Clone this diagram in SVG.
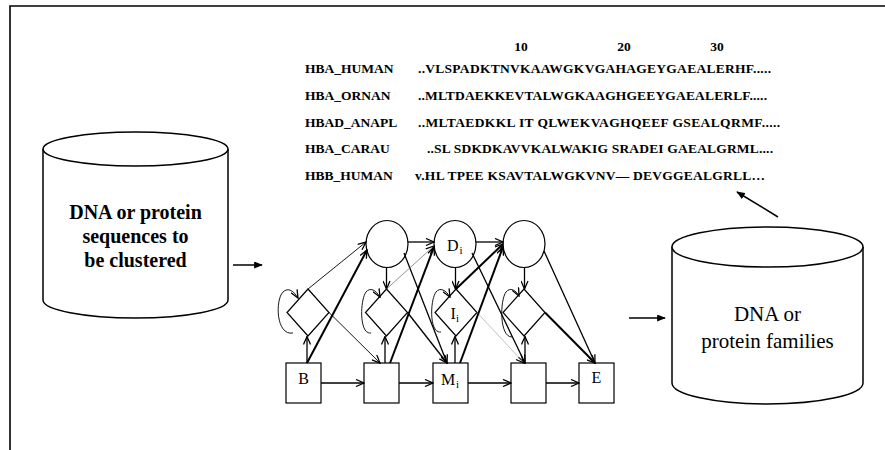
<svg xmlns="http://www.w3.org/2000/svg" width="885" height="450" viewBox="0 0 885 450" font-family="'Liberation Serif', 'Times New Roman', serif">
<defs>
<style>
.shape{fill:#fff;stroke:#000;stroke-width:1.2}
.cyl{fill:#fff;stroke:#000;stroke-width:1.5}
.c{fill:none;stroke:#000;stroke-width:1.3;marker-end:url(#open)}
.thick{stroke-width:2}
.thin{stroke-width:0.9}
.gray{stroke:#666;stroke-width:0.7}
.lgray{stroke:#999;stroke-width:0.6}
.big{fill:none;stroke:#000;stroke-width:1.5;marker-end:url(#solid)}
</style>
<marker id="open" viewBox="0 0 10 8" refX="9" refY="4" markerWidth="10" markerHeight="8" markerUnits="userSpaceOnUse" orient="auto">
<path d="M1,0.5 L9,4 L1,7.5" fill="none" stroke="#000" stroke-width="1.3"/>
</marker>
<marker id="solid" viewBox="0 0 10 8" refX="9" refY="4" markerWidth="9" markerHeight="7" markerUnits="userSpaceOnUse" orient="auto">
<path d="M0,0 L10,4 L0,8 z" fill="#000"/>
</marker>
</defs>
<rect width="885" height="450" fill="#fff"/>
<g id="frame" fill="none" stroke="#000" stroke-width="1.6">
<path d="M10,450 L10,6 L885,6"/>
</g>

<g id="alignment" font-family="'Liberation Serif', 'Times New Roman', serif" font-size="13.5" font-weight="bold" fill="#000">
<text x="521" y="51" text-anchor="middle">10</text>
<text x="624" y="51" text-anchor="middle">20</text>
<text x="717" y="51" text-anchor="middle">30</text>
<text x="305" y="73">HBA_HUMAN</text>
<text x="305" y="100">HBA_ORNAN</text>
<text x="305" y="127">HBAD_ANAPL</text>
<text x="305" y="153">HBA_CARAU</text>
<text x="305" y="180">HBB_HUMAN</text>
<text x="418" y="73" textLength="353">..VLSPADKTNVKAAWGKVGAHAGEYGAEALERHF.....</text>
<text x="418" y="100" textLength="349">..MLTDAEKKEVTALWGKAAGHGEEYGAEALERLF.....</text>
<text x="418" y="127" textLength="362">..MLTAEDKKL IT QLWEKVAGHQEEF GSEALQRMF.....</text>
<text x="427" y="153" textLength="346">..SL SDKDKAVVKALWAKIG SRADEI GAEALGRML....</text>
<text x="415" y="180" textLength="350">v.HL TPEE KSAVTALWGKVNV— DEVGGEALGRLL…</text>
</g>

<g id="input-db">
<path class="cyl" d="M43,149 L43,300 A92.5,18 0 0 0 228,300 L228,149"/>
<ellipse class="cyl" cx="135.5" cy="149" rx="92.5" ry="17"/>
<g font-family="'Liberation Serif', 'Times New Roman', serif" font-size="20" font-weight="bold" text-anchor="middle" fill="#000">
<text x="135.5" y="219">DNA or protein</text>
<text x="135.5" y="243">sequences to</text>
<text x="135.5" y="267">be clustered</text>
</g>
</g>

<g id="output-db">
<path class="cyl" d="M672,247 L672,383 A95.5,21 0 0 0 863,383 L863,247"/>
<ellipse class="cyl" cx="767.5" cy="247" rx="95.5" ry="20"/>
<g font-family="'Liberation Serif', 'Times New Roman', serif" font-size="21" text-anchor="middle" fill="#000">
<text x="767.5" y="321">DNA or</text>
<text x="767.5" y="348">protein families</text>
</g>
</g>

<g id="D1"><ellipse class="shape" cx="387" cy="244" rx="21" ry="23.5"/></g>
<g id="D2" font-family="'Liberation Serif', 'Times New Roman', serif"><ellipse class="shape" cx="455" cy="244" rx="21" ry="23.5"/>
<text x="447" y="251" font-size="16">D</text><text x="459.5" y="254" font-size="11">i</text></g>
<g id="D3"><ellipse class="shape" cx="524" cy="244" rx="21" ry="23.5"/></g>

<g id="I0"><path class="shape" d="M308,289 L329,312.5 L308,336 L287,312.5 Z"/></g>
<g id="I1"><path class="shape" d="M386.5,289 L407.5,312.5 L386.5,336 L365.5,312.5 Z"/></g>
<g id="I2" font-family="'Liberation Serif', 'Times New Roman', serif"><path class="shape" d="M456,289 L477,312.5 L456,336 L435,312.5 Z"/>
<text x="450.5" y="319" font-size="16">I</text><text x="456" y="322" font-size="11">i</text></g>
<g id="I3"><path class="shape" d="M524,289 L545,312.5 L524,336 L503,312.5 Z"/></g>

<g id="B" font-family="'Liberation Serif', 'Times New Roman', serif"><rect class="shape" x="286" y="363" width="35" height="40"/>
<text x="303.5" y="384" font-size="16" text-anchor="middle">B</text></g>
<g id="M1"><rect class="shape" x="364" y="363" width="35" height="40"/></g>
<g id="M2" font-family="'Liberation Serif', 'Times New Roman', serif"><rect class="shape" x="433" y="363" width="35" height="40"/>
<text x="441" y="385" font-size="16">M</text><text x="456" y="388" font-size="11">i</text></g>
<g id="M3"><rect class="shape" x="511" y="363" width="35" height="40"/></g>
<g id="E" font-family="'Liberation Serif', 'Times New Roman', serif"><rect class="shape" x="579" y="363" width="35" height="40"/>
<text x="596.5" y="383" font-size="16" text-anchor="middle">E</text></g>

<g id="connectors">
<path class="big" d="M233,265 L262,265"/>
<path class="big" d="M629,318 L665,318"/>
<path class="big" d="M778,217 L737,192"/>

<path class="c" d="M321,383 L364,383"/>
<path class="c" d="M399,383 L433,383"/>
<path class="c" d="M468,383 L511,383"/>
<path class="c" d="M546,383 L579,383"/>
<path class="c" d="M408,242 L434,242"/>
<path class="c" d="M476,242 L503,242"/>

<path class="c" d="M307,363 L307,336.5"/>
<path class="c" d="M385,363 L385,336.5"/>
<path class="c" d="M455,363 L455,336.5"/>
<path class="c" d="M525,363 L525,336.5"/>
<path class="c" d="M386.5,267.5 L386.5,289"/>
<path class="c" d="M455.5,267.5 L455.5,289"/>
<path class="c" d="M524.5,267.5 L524.5,289"/>

<path class="c thick" d="M307,363 L367,250"/>
<path class="c thin" d="M308,289 L366,242"/>
<path class="c thin" d="M329,312.5 L380,363"/>
<path class="c" d="M404,253 L447,363"/>
<path class="c" d="M407.5,312.5 L447,363"/>
<path class="c thick" d="M390,363 L434,247"/>
<path class="c gray" d="M386.5,289 L434,246"/>
<path class="c" d="M472,253 L525,363"/>
<path class="c lgray" d="M477,312.5 L524,363"/>
<path class="c thick" d="M460,363 L503,247"/>
<path class="c thick" d="M456,289 L503,244"/>
<path class="c" d="M544,251 L595,363"/>
<path class="c thick" d="M545,312.5 L595,363"/>

<path class="c thin" d="M293,333 C276,336 275,300 283,292 C288,287 294,291 298,298"/>
<path class="c thin" d="M371,333 C359,335 360,300 366,292 C370,287 376,290 380,297"/>
<path class="c thin" d="M441,332 C429,334 430,300 436,292 C440,287 446,290 450,297"/>
<path class="c thin" d="M512,337 C499,337 500,300 506,292 C510,287 516,290 519,296"/>
</g>
</svg>
